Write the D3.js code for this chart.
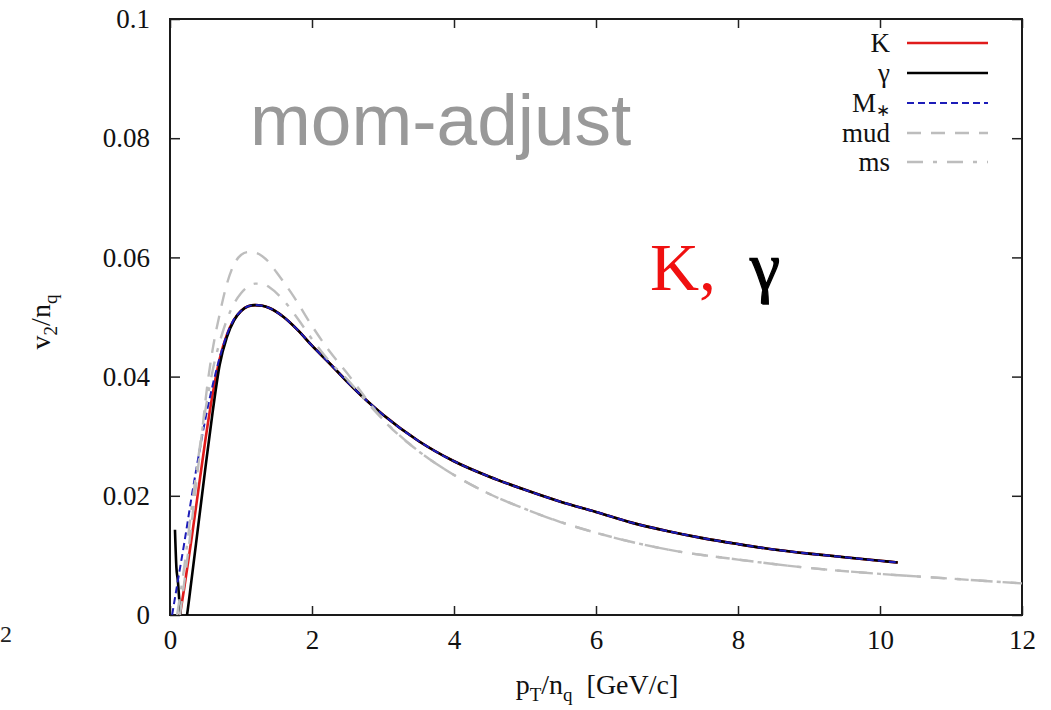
<!DOCTYPE html>
<html>
<head>
<meta charset="utf-8">
<script src="https://cdn.jsdelivr.net/npm/d3@7"></script>
<style>
  body { margin: 0; background: #fff; }
  svg { display: block; }
  .tick line { stroke: #222; stroke-width: 1.5; }
</style>
</head>
<body>
<div id="chart"></div>
<script>
// ---- data ----
const xTicks = [0, 2, 4, 6, 8, 10, 12];
const yTicks = [0, 0.02, 0.04, 0.06, 0.08, 0.1];

const kPt = [0.14, 0.2, 0.3, 0.4, 0.5, 0.6, 0.7, 0.8, 0.9, 1.0, 1.1, 1.2, 1.3, 1.4, 1.6, 1.8, 2.0, 2.25, 2.5, 2.75, 3.0, 3.5, 4.0, 4.5, 5.0, 5.5, 6.0, 6.5, 7.0, 7.5, 8.0, 8.5, 9.0, 9.5, 10.0, 10.25];
const kV2 = [0, 0.0045, 0.0125, 0.021, 0.0295, 0.037, 0.043, 0.047, 0.0495, 0.051, 0.0518, 0.052, 0.0519, 0.0515, 0.05, 0.0478, 0.0452, 0.0422, 0.0391, 0.0362, 0.0336, 0.0292, 0.0258, 0.0232, 0.021, 0.019, 0.0173, 0.0155, 0.0141, 0.0129, 0.0119, 0.011, 0.0103, 0.0097, 0.0091, 0.0088];

const gammaPt = [0.07, 0.09, 0.11, 0.14, 0.17, 0.2, 0.24, 0.3, 0.4, 0.5, 0.6, 0.7, 0.8, 0.9, 1.0, 1.1, 1.2, 1.3, 1.4, 1.6, 1.8, 2.0, 2.25, 2.5, 2.75, 3.0, 3.5, 4.0, 4.5, 5.0, 5.5, 6.0, 6.5, 7.0, 7.5, 8.0, 8.5, 9.0, 9.5, 10.0, 10.25];
const gammaV2 = [0.0143, 0.008, 0.0058, 0.001, -0.003, -0.003, 0, 0.0056, 0.0152, 0.0248, 0.034, 0.042, 0.0466, 0.0494, 0.051, 0.0518, 0.052, 0.0519, 0.0515, 0.05, 0.0478, 0.0452, 0.0422, 0.0391, 0.0362, 0.0336, 0.0292, 0.0258, 0.0232, 0.021, 0.019, 0.0173, 0.0155, 0.0141, 0.0129, 0.0119, 0.011, 0.0103, 0.0097, 0.0091, 0.0088];

const mPt = [0.03, 0.1, 0.2, 0.3, 0.4, 0.5, 0.6, 0.7, 0.8, 0.9, 1.0, 1.1, 1.2, 1.3, 1.4, 1.6, 1.8, 2.0, 2.25, 2.5, 2.75, 3.0, 3.5, 4.0, 4.5, 5.0, 5.5, 6.0, 6.5, 7.0, 7.5, 8.0, 8.5, 9.0, 9.5, 10.0, 10.25];
const mV2 = [0, 0.005, 0.012, 0.0195, 0.0265, 0.033, 0.0385, 0.0432, 0.047, 0.0496, 0.051, 0.0518, 0.052, 0.0519, 0.0515, 0.05, 0.0478, 0.0452, 0.0422, 0.0391, 0.0362, 0.0336, 0.0292, 0.0258, 0.0232, 0.021, 0.019, 0.0173, 0.0155, 0.0141, 0.0129, 0.0119, 0.011, 0.0103, 0.0097, 0.0091, 0.0088];

const mudPt = [0.14, 0.25, 0.35, 0.45, 0.52, 0.6, 0.7, 0.8, 0.9, 1.0, 1.1, 1.2, 1.3, 1.4, 1.5, 1.75, 2.0, 2.25, 2.5, 2.75, 3.0, 3.5, 4.0, 4.5, 5.0, 5.5, 6.0, 7.0, 8.0, 9.0, 10.0, 11.0, 12.0];
const mudV2 = [0, 0.01, 0.02, 0.0305, 0.038, 0.0445, 0.0505, 0.0555, 0.0588, 0.0604, 0.0609, 0.0608, 0.0602, 0.0591, 0.0575, 0.0533, 0.0485, 0.0442, 0.0405, 0.0365, 0.0328, 0.0275, 0.0235, 0.0203, 0.0178, 0.0156, 0.0138, 0.011, 0.0093, 0.0079, 0.0069, 0.0061, 0.0053];

const msPt = [0.1, 0.2, 0.3, 0.4, 0.5, 0.6, 0.7, 0.8, 0.9, 1.0, 1.1, 1.2, 1.3, 1.4, 1.6, 1.8, 2.0, 2.25, 2.5, 2.75, 3.0, 3.5, 4.0, 4.5, 5.0, 5.5, 6.0, 7.0, 8.0, 9.0, 10.0, 11.0, 12.0];
const msV2 = [0, 0.008, 0.0175, 0.0265, 0.0345, 0.041, 0.0458, 0.0495, 0.0522, 0.054, 0.0551, 0.0556, 0.0556, 0.055, 0.0528, 0.0497, 0.0463, 0.0425, 0.0395, 0.036, 0.0328, 0.0275, 0.0235, 0.0203, 0.0178, 0.0156, 0.0138, 0.011, 0.0093, 0.0079, 0.0069, 0.0061, 0.0053];

const seriesNames = ["K", "\u03b3", "M", "mud", "ms"];

// ---- layout ----
const W = 1051, H = 710;
const margin = { top: 19, right: 29, bottom: 95, left: 170 };
const width = W - margin.left - margin.right;
const height = H - margin.top - margin.bottom;
const serif = "'Liberation Serif', 'Times New Roman', serif";

const xScale = d3.scaleLinear().domain([0, 12]).range([0, width]);
const yScale = d3.scaleLinear().domain([0, 0.1]).range([height, 0]);

const svgRoot = d3.select("#chart").append("svg").attr("width", W).attr("height", H);
const svg = svgRoot.append("g").attr("transform", "translate(" + margin.left + "," + margin.top + ")");

svgRoot.append("defs").append("clipPath").attr("id", "plotClip")
  .append("rect").attr("x", 0).attr("y", 0).attr("width", width).attr("height", height);

// axes with inward ticks, mirrored on top/right
const yFmt = (d) => (d === 0 ? "0" : d3.format(".2~f")(d));
const styleTicks = (g) => {
  g.select(".domain").remove();
  g.selectAll(".tick text")
    .style("font-family", serif)
    .style("font-size", "27px")
    .attr("fill", "#111");
};
svg.append("g").attr("class", "myXaxis")
  .attr("transform", "translate(0," + height + ")")
  .call(d3.axisBottom(xScale).tickValues(xTicks).tickSizeInner(-9).tickSizeOuter(0).tickPadding(15).tickFormat(d3.format("d")))
  .call(styleTicks);
svg.append("g").attr("class", "myYaxis")
  .call(d3.axisLeft(yScale).tickValues(yTicks).tickSizeInner(-10).tickSizeOuter(0).tickPadding(20).tickFormat(yFmt))
  .call(styleTicks);
svg.append("g")
  .call(d3.axisTop(xScale).tickValues(xTicks).tickSizeInner(-9).tickSizeOuter(0).tickFormat(""))
  .call(styleTicks);
svg.append("g").attr("transform", "translate(" + width + ",0)")
  .call(d3.axisRight(yScale).tickValues(yTicks).tickSizeInner(-10).tickSizeOuter(0).tickFormat(""))
  .call(styleTicks);

svg.append("rect").attr("x", 0).attr("y", 0).attr("width", width).attr("height", height)
  .attr("fill", "none").attr("stroke", "#1a1a1a").attr("stroke-width", 2);

// curves
const line = d3.line()
  .x((d) => xScale(d[0]))
  .y((d) => yScale(d[1]))
  .curve(d3.curveMonotoneX);

const styles = [
  { pts: d3.zip(kPt, kV2), color: "#e01b1b", w: 2.6, dash: null },
  { pts: d3.zip(gammaPt, gammaV2), color: "#000", w: 2.6, dash: null },
  { pts: d3.zip(mPt, mV2), color: "#1c1cb8", w: 2, dash: "7,4" },
  { pts: d3.zip(mudPt, mudV2), color: "#bdbdbd", w: 2.4, dash: "14,10" },
  { pts: d3.zip(msPt, msV2), color: "#bdbdbd", w: 2.4, dash: "16,10,4,10" },
];

const plot = svg.append("g").attr("clip-path", "url(#plotClip)");
styles.forEach((s) => {
  plot.append("path")
    .datum(s.pts)
    .attr("d", line)
    .attr("fill", "none")
    .attr("stroke", s.color)
    .attr("stroke-width", s.w)
    .attr("stroke-dasharray", s.dash);
});

// legend
const legend = svgRoot.append("g").attr("class", "legend");
const legendRows = [43, 73, 103, 133, 162];
styles.forEach((s, i) => {
  const y = legendRows[i];
  const t = legend.append("text")
    .attr("x", 890).attr("y", y).attr("dy", "0.35em")
    .attr("text-anchor", "end")
    .style("font-family", serif)
    .style("font-size", "27px")
    .attr("fill", "#111");
  if (seriesNames[i] === "M") {
    t.append("tspan").text("M");
    t.append("tspan").attr("dy", 4).style("font-size", "17px").text("\u2217");
  } else {
    t.text(seriesNames[i]);
  }
  legend.append("line")
    .attr("x1", 907).attr("x2", 988).attr("y1", y).attr("y2", y)
    .attr("stroke", s.color)
    .attr("stroke-width", s.w)
    .attr("stroke-dasharray", s.dash);
});

// annotations
svgRoot.append("text")
  .attr("x", 250).attr("y", 145)
  .style("font-family", "'Liberation Sans', Arial, sans-serif")
  .style("font-size", "73px")
  .attr("fill", "#999")
  .text("mom-adjust");

const kg = svgRoot.append("text")
  .attr("x", 650).attr("y", 290)
  .style("font-family", serif)
  .style("font-size", "68px");
kg.append("tspan").attr("fill", "#f01010").text("K,");
kg.append("tspan").attr("fill", "#000").attr("stroke", "#000").attr("stroke-width", 1.3)
  .attr("dx", 34).text("\u03b3");

// axis titles
const yTitle = svgRoot.append("text")
  .attr("transform", "translate(50,322) rotate(-90)")
  .attr("text-anchor", "middle")
  .style("font-family", serif)
  .style("font-size", "28px")
  .attr("fill", "#111");
yTitle.append("tspan").text("v");
yTitle.append("tspan").attr("dy", 7).style("font-size", "19px").text("2");
yTitle.append("tspan").attr("dy", -7).text("/n");
yTitle.append("tspan").attr("dy", 7).style("font-size", "19px").text("q");

const xTitle = svgRoot.append("text")
  .attr("x", 597).attr("y", 694)
  .attr("text-anchor", "middle")
  .style("font-family", serif)
  .style("font-size", "28px")
  .attr("fill", "#111");
xTitle.append("tspan").text("p");
xTitle.append("tspan").attr("dy", 7).style("font-size", "19px").text("T");
xTitle.append("tspan").attr("dy", -7).text("/n");
xTitle.append("tspan").attr("dy", 7).style("font-size", "19px").text("q");
xTitle.append("tspan").attr("dy", -7).text("\u00a0\u00a0[GeV/c]");

// stray label at the left edge
svgRoot.append("text")
  .attr("x", 0).attr("y", 642)
  .style("font-family", serif)
  .style("font-size", "24px")
  .attr("fill", "#222")
  .text("2");
</script>
</body>
</html>
